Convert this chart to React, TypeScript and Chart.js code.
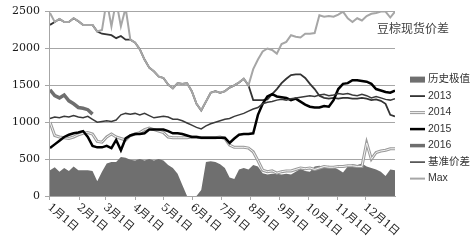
import React, { useEffect, useRef } from 'react';
import { Chart, registerables } from 'chart.js';

Chart.register(...registerables);

const chartTitle = '豆棕现货价差';

// day of year for each sample (every 5 days)
const days = [
  0, 5, 10, 15, 20, 25, 30, 35, 40, 45, 50, 55, 60, 65, 70, 75, 80, 85, 90, 95,
  100, 105, 110, 115, 120, 125, 130, 135, 140, 145, 150, 155, 160, 165, 170, 175, 180, 185, 190, 195,
  200, 205, 210, 215, 220, 225, 230, 235, 240, 245, 250, 255, 260, 265, 270, 275, 280, 285, 290, 295,
  300, 305, 310, 315, 320, 325, 330, 335, 340, 345, 350, 355, 360, 365,
];

const monthStartDays = [0, 31, 59, 90, 120, 151, 181, 212, 243, 273, 304, 334];
const monthLabels = ['1月1日', '2月1日', '3月1日', '4月1日', '5月1日', '6月1日', '7月1日', '8月1日', '9月1日', '10月1日', '11月1日', '12月1日'];
const yTickStep = 500;
const yMin = 0;
const yMax = 2500;

const seriesNames = ['历史极值', '2013', '2014', '2015', '2016', '基准价差', 'Max'];

const histExtreme = [
  350, 390, 330, 380, 340, 400, 350, 350, 350, 340, 200, 330, 440, 460, 460, 530, 520, 490, 480, 500,
  480, 500, 480, 500, 480, 420, 380, 300, 150, 0, 0, 0, 80, 460, 470, 460, 430, 380, 250, 230,
  360, 380, 360, 420, 400, 310, 290, 300, 300, 290, 300, 290, 330, 370, 340, 330, 400, 410, 390, 410,
  390, 360, 320, 400, 430, 420, 440, 400, 380, 360, 330, 270, 360, 350,
];

const y2013 = [
  2320, 2360, 2400, 2360, 2360, 2410, 2370, 2320, 2320, 2320, 2230, 2200, 2190, 2180, 2140, 2170, 2120, 2120, 2080, 1990,
  1850, 1740, 1690, 1620, 1600, 1510, 1460, 1530, 1520, 1530, 1420, 1250, 1160, 1280, 1400, 1420, 1400, 1420, 1470, 1500,
  1540, 1590, 1500, 1300, 1300, 1300, 1310, 1380, 1450, 1530, 1590, 1640, 1650, 1650, 1600, 1520, 1450, 1360, 1330, 1320,
  1330, 1320, 1330, 1330, 1320, 1320, 1330, 1320, 1300, 1310, 1290, 1250, 1100, 1080,
];

const y2014 = [
  1000, 820, 800, 790, 780, 800, 830, 850, 860, 840, 740, 730, 800, 840, 800, 780, 760, 820, 840, 860,
  900, 920, 900, 880, 860, 800, 790, 790, 790, 790, 800, 800, 790, 790, 790, 790, 800, 780, 690, 660,
  660, 660, 650, 600, 480, 350, 330, 340, 310, 330, 340, 340, 360, 380, 370, 380, 360, 380, 400, 390,
  390, 400, 400, 410, 410, 400, 400, 720, 500, 590, 610, 620, 640, 640,
];

const y2015 = [
  650, 700, 750, 800, 830, 850, 860, 880, 800, 680, 660, 660, 680, 650, 760, 620, 780, 820, 840, 840,
  850, 900, 900, 900, 900, 880, 850, 850, 840, 820, 800, 800, 790, 790, 790, 790, 790, 790, 720, 780,
  830, 840, 840, 850, 1100, 1250, 1350, 1380, 1350, 1340, 1330, 1300, 1320, 1280, 1240, 1210, 1200, 1200, 1220, 1210,
  1300, 1450, 1520, 1530, 1570, 1570, 1560, 1550, 1520, 1450, 1430, 1410, 1400, 1430,
];

const y2016 = [
  1440, 1360, 1330, 1370, 1290, 1250, 1200, 1190, 1170, 1110, null, null, null, null, null, null, null, null, null, null,
  null, null, null, null, null, null, null, null, null, null, null, null, null, null, null, null, null, null, null, null,
  null, null, null, null, null, null, null, null, null, null, null, null, null, null, null, null, null, null, null, null,
  null, null, null, null, null, null, null, null, null, null, null, null, null, null,
];

const benchmark = [
  1050, 1070, 1060, 1080, 1070, 1090, 1070, 1060, 1080, 1040, 1000, 1010, 1020, 1010, 1030, 1100, 1120, 1110, 1120, 1100,
  1120, 1090, 1060, 1070, 1080, 1070, 1040, 1040, 1020, 990, 960, 930, 910, 950, 980, 1000, 1020, 1040, 1050, 1080,
  1100, 1120, 1150, 1180, 1200, 1250, 1270, 1280, 1300, 1310, 1300, 1320, 1330, 1340, 1350, 1360, 1350, 1370, 1380, 1360,
  1370, 1390, 1380, 1390, 1370, 1360, 1380, 1360, 1330, 1350, 1330, 1310, 1300, 1320,
];

const maxSpread = [
  2480, 2360, 2400, 2360, 2360, 2410, 2370, 2320, 2320, 2320, 2230, 2250, 2650, 2300, 2650, 2300, 2550, 2120, 2080, 1990,
  1850, 1740, 1690, 1620, 1600, 1510, 1460, 1530, 1520, 1530, 1420, 1250, 1160, 1280, 1400, 1420, 1400, 1420, 1470, 1500,
  1540, 1590, 1500, 1720, 1850, 1960, 2000, 1980, 1930, 2060, 2090, 2180, 2160, 2150, 2200, 2200, 2210, 2450, 2430, 2440,
  2430, 2460, 2500, 2410, 2360, 2410, 2380, 2440, 2470, 2480, 2500, 2500, 2420, 2500,
];

const pts = (vals: (number | null)[]) => days.map((d, i) => ({ x: d, y: vals[i] }));

const overlayPlugin = {
  id: 'overlay',
  afterDraw(chart: any) {
    const ctx = chart.ctx as CanvasRenderingContext2D;
    const xs = chart.scales.x;
    const area = chart.chartArea;
    ctx.save();

    // rotated month labels
    ctx.fillStyle = '#1a1a1a';
    ctx.font = '11px "DejaVu Serif", "Noto Sans CJK SC", serif';
    ctx.textAlign = 'left';
    ctx.textBaseline = 'middle';
    monthStartDays.forEach((d, i) => {
      const px = xs.getPixelForValue(d);
      ctx.save();
      ctx.translate(px - 1, area.bottom + 10);
      ctx.rotate((40 * Math.PI) / 180);
      ctx.fillText(monthLabels[i], 0, 0);
      ctx.restore();
    });

    // title inside plot
    ctx.font = '12px "Noto Sans CJK SC", sans-serif';
    ctx.fillStyle = '#404040';
    ctx.textAlign = 'left';
    ctx.textBaseline = 'middle';
    ctx.fillText(chartTitle, area.right - 18, area.top + 17);

    // legend
    const top = area.top + 68;
    const step = 16.5;
    ctx.font = '10.5px "Liberation Sans", "Noto Sans CJK SC", sans-serif';
    seriesNames.forEach((name, i) => {
      const y = top + i * step;
      const x0 = area.right + 15;
      const x1 = area.right + 30;
      const ds = chart.data.datasets.find((d: any) => d.label === name && !d.legendSkip);
      const inner = chart.data.datasets.find((d: any) => d.label === name && d.legendSkip);
      if (ds) {
        if (ds.fill) {
          ctx.fillStyle = ds.backgroundColor;
          ctx.fillRect(x0, y - 3, x1 - x0, 6);
        } else {
          ctx.strokeStyle = ds.borderColor;
          ctx.lineWidth = ds.borderWidth;
          ctx.beginPath();
          ctx.moveTo(x0, y);
          ctx.lineTo(x1, y);
          ctx.stroke();
          if (inner) {
            ctx.strokeStyle = inner.borderColor;
            ctx.lineWidth = inner.borderWidth;
            ctx.beginPath();
            ctx.moveTo(x0, y);
            ctx.lineTo(x1, y);
            ctx.stroke();
          }
        }
      }
      ctx.fillStyle = '#333333';
      ctx.fillText(name, area.right + 33, y);
    });
    ctx.restore();
  },
};

export default function App() {
  const canvasRef = useRef<HTMLCanvasElement | null>(null);

  useEffect(() => {
    document.body.style.margin = '0';
    const canvas = canvasRef.current;
    if (!canvas) return;
    const chart = new Chart(canvas, {
      type: 'line',
      data: {
        datasets: [
          { label: 'Max', data: pts(maxSpread), borderColor: '#a6a6a6', borderWidth: 2, order: 1 },
          { label: '基准价差', data: pts(benchmark), borderColor: '#3a3a3a', borderWidth: 1.5, order: 2 },
          { label: '2016', data: pts(y2016), borderColor: '#6e6e6e', borderWidth: 3.5, order: 3 },
          { label: '2015', data: pts(y2015), borderColor: '#000000', borderWidth: 2.5, order: 4 },
          { label: '2014', data: pts(y2014), borderColor: '#f4f4f4', borderWidth: 1, order: 5, legendSkip: true } as any,
          { label: '2014', data: pts(y2014), borderColor: '#9a9a9a', borderWidth: 3, order: 6 },
          { label: '2013', data: pts(y2013), borderColor: '#333333', borderWidth: 1.8, order: 7 },
          {
            label: '历史极值', data: pts(histExtreme), fill: 'origin', backgroundColor: '#6f6f6f',
            borderColor: '#6f6f6f', borderWidth: 0, order: 8,
          },
        ],
      },
      options: {
        animation: false,
        responsive: true,
        maintainAspectRatio: false,
        elements: { point: { radius: 0 }, line: { tension: 0 } },
        layout: { padding: { left: 7, right: 79, top: 9, bottom: 41 } },
        plugins: {
          legend: { display: false },
          tooltip: { enabled: false },
          title: { display: false },
        },
        scales: {
          x: {
            type: 'linear',
            min: 0,
            max: 365,
            afterBuildTicks: (s: any) => {
              s.ticks = monthStartDays.map((v) => ({ value: v }));
            },
            ticks: { display: false },
            grid: { drawOnChartArea: false, drawTicks: true, tickLength: 4, color: '#a6a6a6' },
            border: { color: '#a6a6a6' },
          },
          y: {
            min: yMin,
            max: yMax,
            ticks: {
              stepSize: yTickStep,
              padding: 5,
              color: '#1a1a1a',
              font: { family: '"DejaVu Serif", serif', size: 11 },
              callback: (v: any) => String(v),
            },
            grid: { color: '#a6a6a6', drawTicks: true, tickLength: 5 },
            border: { color: '#a6a6a6' },
          },
        },
      },
      plugins: [overlayPlugin],
    } as any);
    return () => chart.destroy();
  }, []);

  return (
    <div style={{ position: 'absolute', left: 0, top: 0, width: 474, height: 241 }}>
      <canvas ref={canvasRef} />
    </div>
  );
}
